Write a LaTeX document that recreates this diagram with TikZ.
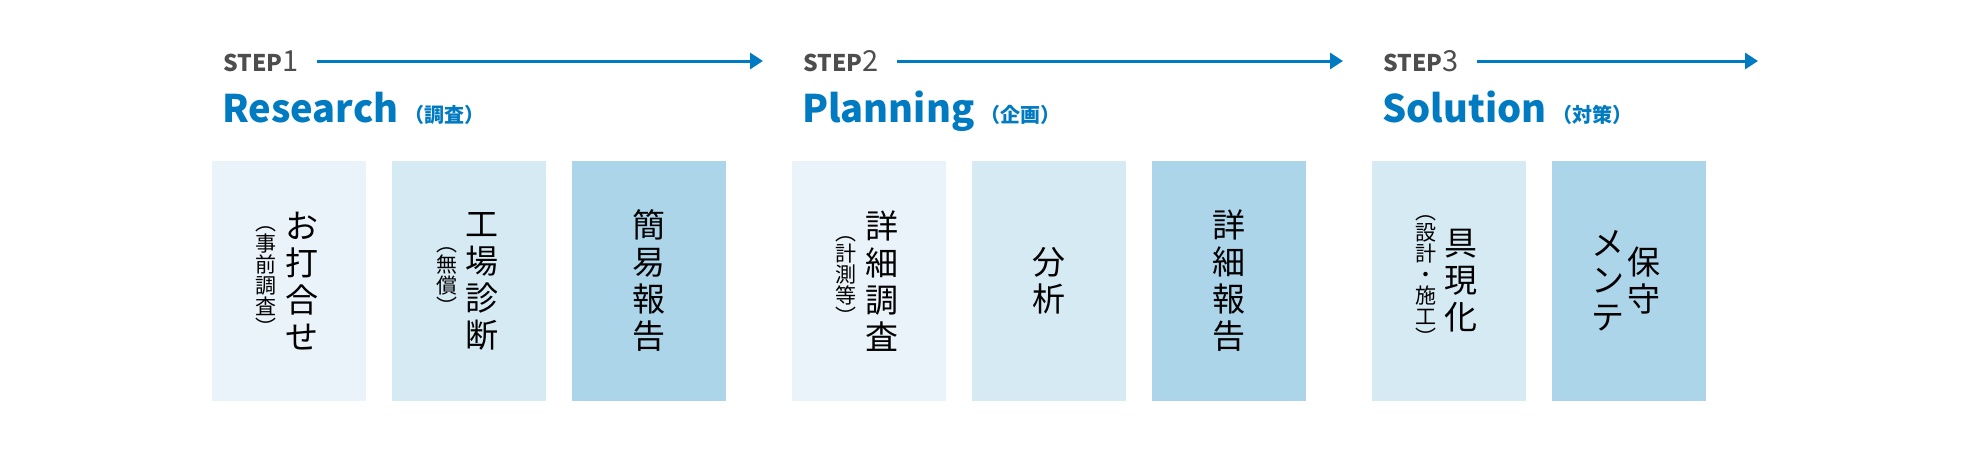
\documentclass[tikz,border=0pt]{standalone}
\usepackage{fontspec}
\setmainfont{Noto Sans CJK JP}
\usetikzlibrary{arrows.meta,positioning}
\definecolor{stepblue}{HTML}{007AC0}
\definecolor{stepgray}{HTML}{4D4D4D}
\definecolor{boxa}{HTML}{EAF3FA}
\definecolor{boxb}{HTML}{D6EAF4}
\definecolor{boxc}{HTML}{ADD5EA}
\tikzset{
  stepbox/.style={fill=#1,minimum width=154pt,minimum height=240pt,inner sep=0pt,outer sep=0pt},
  bigtate/.style={font=\fontsize{33}{37}\selectfont,align=center,inner sep=0pt},
  smalltate/.style={font=\fontsize{21}{21}\selectfont,align=center,inner sep=0pt},
  steplabel/.style={text=stepgray,inner sep=0pt,anchor=base west},
  titlelabel/.style={text=stepblue,inner sep=0pt,anchor=base west,font=\bfseries},
  steparrow/.style={stepblue,line width=3pt,-{Triangle[length=13pt,width=16pt]}}
}

\begin{document}
\begin{tikzpicture}[x=1pt,y=-1pt]
        \useasboundingbox (0,0) rectangle (1981,461);
        % step 1
        \node[steplabel] (step1) at (223,71) {\fontsize{23}{23}\selectfont\bfseries STEP\fontsize{29}{29}\selectfont\mdseries 1};
        \node[titlelabel] (research) at (222,122) {\fontsize{38}{40}\selectfont Research\,\fontsize{20}{20}\selectfont （調査）};
        \coordinate (end1) at (763,61);
        \path ([xshift=18pt]step1.east) coordinate (start1);
        \draw[steparrow] (start1 |- end1) -- (end1);
        \node[stepbox=boxa] (b1) at (289,281) {};
        \node[bigtate] (b1main) at ([xshift=13pt]b1.center) {お\\打\\合\\せ};
        \node[smalltate] (b1sub) at ([xshift=-23pt]b1.center) {︵\\事\\前\\調\\査\\︶};
        \node[stepbox=boxb] (b2) at (469,281) {};
        \node[bigtate] (b2main) at ([xshift=13pt]b2.center) {工\\場\\診\\断};
        \node[smalltate] (b2sub) at ([xshift=-22pt]b2.center) {︵\\無\\償\\︶};
        \node[stepbox=boxc] (b3) at (649,281) {};
        \node[bigtate] (b3main) at (b3.center) {簡\\易\\報\\告};
        % step 2
        \node[steplabel] (step2) at (803,71) {\fontsize{23}{23}\selectfont\bfseries STEP\fontsize{29}{29}\selectfont\mdseries 2};
        \node[titlelabel] (planning) at (802,122) {\fontsize{38}{40}\selectfont Planning\,\fontsize{20}{20}\selectfont （企画）};
        \coordinate (end2) at (1343,61);
        \path ([xshift=18pt]step2.east) coordinate (start2);
        \draw[steparrow] (start2 |- end2) -- (end2);
        \node[stepbox=boxa] (b4) at (869,281) {};
        \node[bigtate] (b4main) at ([xshift=13pt]b4.center) {詳\\細\\調\\査};
        \node[smalltate] (b4sub) at ([xshift=-23pt]b4.center) {︵\\計\\測\\等\\︶};
        \node[stepbox=boxb] (b5) at (1049,281) {};
        \node[bigtate] (b5main) at (b5.center) {分\\析};
        \node[stepbox=boxc] (b6) at (1229,281) {};
        \node[bigtate] (b6main) at (b6.center) {詳\\細\\報\\告};
        % step 3
        \node[steplabel] (step3) at (1383,71) {\fontsize{23}{23}\selectfont\bfseries STEP\fontsize{29}{29}\selectfont\mdseries 3};
        \node[titlelabel] (solution) at (1382,122) {\fontsize{38}{40}\selectfont Solution\,\fontsize{20}{20}\selectfont （対策）};
        \coordinate (end3) at (1758,61);
        \path ([xshift=18pt]step3.east) coordinate (start3);
        \draw[steparrow] (start3 |- end3) -- (end3);
        \node[stepbox=boxb] (b7) at (1449,281) {};
        \node[bigtate] (b7main) at ([xshift=12pt]b7.center) {具\\現\\化};
        \node[smalltate] (b7sub) at ([xshift=-23pt]b7.center) {︵\\設\\計\\・\\施\\工\\︶};
        \node[stepbox=boxc] (b8) at (1629,281) {};
        \node[bigtate] (b8main) at ([xshift=15pt]b8.center) {保\\守};
        \node[bigtate] (b8sub) at ([xshift=-21pt]b8.center) {メ\\ン\\テ};
\end{tikzpicture}
\end{document}
